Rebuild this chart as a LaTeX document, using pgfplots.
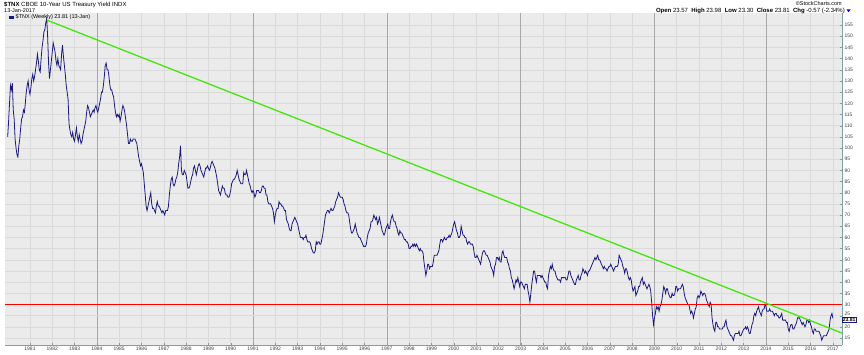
\documentclass[border=0pt]{standalone}
\usepackage{pgfplots}
\pgfplotsset{compat=1.18}
\usepackage{fontspec}
\setmainfont{Liberation Sans}
\definecolor{navy}{HTML}{1A1A80}
\definecolor{bg}{HTML}{EBEBEB}
\definecolor{gridc}{HTML}{DADADA}
\definecolor{gridd}{HTML}{A8A8A8}
\definecolor{axc}{HTML}{7FA0A0}
\definecolor{tgreen}{HTML}{44E60C}
\begin{document}
\begin{tikzpicture}[x=1pt,y=1pt]
\path[use as bounding box] (0,0) rectangle (864,355);
\begin{axis}[
  at={(5pt,10pt)}, anchor=south west, scale only axis,
  width=837pt, height=332pt,
  xmin=1979.88, xmax=2017.41, ymin=11.87, ymax=160.4,
  axis x line*=bottom, axis y line*=right,
  axis background/.style={fill=bg},
  axis line style={axc, line width=0.6pt},
  xtick={1981,...,2017}, ytick={15,20,30,35,...,155},
  /pgf/number format/1000 sep={},
  /pgf/number format/assume math mode=true,
  tick label style={font=\fontsize{5}{6}\selectfont, text=black!75},
  xticklabel style={yshift=1.5pt},
  yticklabel style={anchor=west, xshift=-1pt},
  major tick length=2pt,
  tick style={axc},
  grid=major, major grid style={gridc, line width=0.4pt},
  extra x ticks={1984,1991,1997,2003,2009,2014}, extra x tick labels={},
  extra x tick style={major grid style={gridd, line width=0.6pt}},
  extra y ticks={25},
  extra y tick style={yticklabel style={yshift=2.2pt}},
  clip=false,
]
\addplot[navy, line width=0.8pt] table[header=false, row sep=\\, x expr=1980+\coordindex/24, y index=0] {
105\\112\\120\\128\\126\\129\\117\\113\\104\\100\\97\\96\\101\\104\\109\\113\\114\\117\\116\\120\\125\\128\\130\\126\\
124\\127\\131\\133\\130\\132\\135\\138\\142\\139\\135\\134\\140\\145\\148\\152\\153\\156\\158\\150\\138\\131\\135\\139\\
143\\147\\145\\143\\139\\137\\140\\137\\136\\135\\142\\146\\141\\137\\133\\128\\125\\122\\111\\108\\106\\105\\107\\104\\
103\\106\\109\\105\\103\\106\\104\\102\\103\\106\\108\\110\\112\\116\\119\\118\\116\\114\\115\\116\\117\\116\\118\\119\\
117\\116\\118\\120\\122\\125\\125\\128\\132\\137\\138\\135\\135\\132\\128\\126\\126\\124\\123\\119\\116\\114\\115\\114\\
115\\112\\114\\117\\119\\118\\116\\113\\110\\106\\102\\102\\104\\103\\103\\104\\104\\104\\103\\102\\99\\96\\94\\92\\
93\\91\\89\\84\\79\\74\\72\\74\\76\\78\\80\\75\\73\\73\\72\\71\\74\\76\\74\\74\\73\\72\\71\\72\\
71\\70\\72\\72\\72\\74\\79\\83\\86\\87\\84\\83\\84\\86\\87\\89\\93\\96\\101\\90\\88\\88\\90\\89\\
88\\85\\82\\82\\83\\85\\87\\88\\91\\92\\90\\88\\90\\92\\93\\92\\90\\89\\88\\87\\89\\91\\91\\92\\
91\\90\\91\\93\\94\\93\\92\\91\\89\\87\\84\\81\\80\\79\\81\\83\\82\\82\\80\\79\\79\\78\\78\\79\\
81\\84\\85\\86\\86\\87\\88\\90\\88\\86\\85\\84\\84\\84\\89\\88\\88\\90\\88\\86\\84\\83\\81\\80\\
81\\80\\78\\79\\81\\81\\81\\80\\80\\81\\83\\83\\82\\82\\79\\79\\76\\75\\75\\75\\74\\73\\71\\67\\
70\\72\\73\\73\\76\\75\\75\\74\\74\\73\\72\\72\\68\\67\\66\\64\\63\\63\\66\\67\\68\\69\\68\\67\\
66\\64\\62\\60\\60\\60\\59\\60\\60\\61\\59\\58\\58\\58\\57\\55\\54\\53\\53\\54\\58\\57\\58\\58\\
57\\57\\59\\61\\64\\67\\70\\71\\72\\72\\71\\72\\73\\72\\72\\73\\74\\76\\77\\78\\80\\79\\78\\78\\
78\\77\\75\\74\\72\\71\\71\\70\\67\\64\\62\\62\\63\\64\\66\\64\\62\\61\\60\\60\\59\\58\\57\\56\\
56\\56\\57\\60\\62\\63\\64\\67\\67\\68\\70\\69\\68\\69\\66\\67\\69\\67\\65\\63\\62\\61\\62\\64\\
65\\66\\64\\64\\67\\69\\70\\68\\67\\67\\65\\64\\62\\61\\63\\62\\62\\61\\60\\59\\59\\58\\58\\57\\
55\\55\\56\\56\\57\\56\\57\\56\\57\\56\\55\\54\\55\\54\\54\\53\\49\\46\\43\\45\\48\\48\\46\\47\\
47\\47\\49\\52\\52\\52\\52\\53\\54\\57\\59\\59\\58\\59\\60\\59\\59\\60\\60\\61\\60\\61\\62\\64\\
66\\67\\65\\63\\62\\60\\60\\61\\65\\63\\61\\61\\60\\60\\58\\57\\58\\58\\57\\57\\57\\56\\53\\51\\
51\\52\\51\\50\\49\\48\\51\\53\\54\\54\\53\\52\\52\\51\\50\\49\\47\\46\\45\\43\\47\\48\\51\\51\\
50\\51\\49\\49\\53\\54\\52\\51\\51\\51\\49\\48\\46\\45\\42\\41\\39\\37\\39\\41\\40\\42\\40\\38\\
40\\40\\39\\38\\37\\39\\39\\39\\36\\34\\31\\35\\39\\42\\45\\45\\42\\40\\43\\43\\43\\43\\42\\43\\
42\\41\\40\\40\\38\\37\\43\\45\\47\\46\\48\\46\\45\\45\\43\\42\\41\\41\\41\\40\\42\\42\\42\\42\\
42\\41\\41\\43\\45\\45\\43\\42\\41\\40\\39\\39\\41\\42\\43\\41\\41\\43\\44\\46\\45\\44\\45\\44\\
43\\45\\45\\46\\47\\48\\49\\50\\51\\50\\51\\52\\50\\50\\49\\48\\47\\46\\47\\46\\46\\45\\46\\47\\
47\\48\\47\\46\\45\\46\\47\\47\\47\\48\\52\\51\\50\\49\\47\\46\\44\\46\\46\\44\\42\\41\\42\\41\\
38\\36\\37\\38\\34\\35\\36\\38\\38\\40\\41\\42\\39\\40\\39\\38\\37\\38\\39\\38\\36\\31\\25\\21\\
24\\26\\29\\28\\29\\27\\29\\30\\32\\35\\38\\37\\35\\37\\37\\35\\34\\33\\33\\35\\34\\34\\35\\38\\
38\\36\\37\\37\\37\\38\\39\\38\\35\\33\\32\\31\\30\\30\\28\\26\\27\\26\\24\\26\\28\\29\\33\\34\\
33\\34\\36\\35\\34\\35\\35\\34\\32\\31\\30\\29\\31\\30\\24\\21\\19\\18\\22\\22\\20\\20\\19\\19\\
19\\19\\20\\20\\22\\23\\20\\19\\18\\17\\16\\16\\15\\14\\16\\17\\17\\17\\17\\18\\16\\16\\17\\18\\
19\\19\\20\\19\\20\\19\\17\\17\\19\\21\\22\\25\\26\\25\\27\\28\\29\\27\\26\\25\\27\\28\\28\\30\\
29\\27\\27\\27\\28\\27\\27\\27\\26\\25\\26\\26\\25\\25\\24\\24\\25\\26\\23\\23\\23\\23\\22\\22\\
19\\18\\20\\21\\21\\19\\19\\20\\21\\22\\24\\24\\24\\23\\22\\21\\22\\21\\20\\21\\23\\23\\22\\23\\
21\\20\\18\\17\\19\\19\\18\\18\\18\\18\\17\\16\\14\\15\\16\\16\\16\\16\\17\\18\\19\\23\\25\\26\\
23.81\\
};
\addplot[red, line width=1.3pt] coordinates {(1979.88,30) (2017.41,30)};
\addplot[tgreen, line width=1.3pt] coordinates {(1981.76,157.2) (2017.41,17.2)};
\node[draw=navy, fill=white, inner sep=0.6pt, anchor=west, yshift=-1.2pt, font=\fontsize{5}{5.5}\selectfont\bfseries] at (axis cs:2017.41,23.81) {23.81};
\end{axis}
\node[anchor=west, font=\fontsize{6}{7}\selectfont, inner sep=0pt] at (4,350.5) {\textbf{\$TNX} CBOE 10-Year US Treasury Yield INDX};
\node[anchor=west, font=\fontsize{5.5}{6}\selectfont, inner sep=0pt] at (4,344.3) {13-Jan-2017};
\fill[navy] (9,336.3) rectangle (14,339.3);
\node[anchor=west, font=\fontsize{5.5}{6}\selectfont, inner sep=0pt] at (15.5,337.8) {\$TNX (Weekly) 23.81 (13-Jan)};
\node[anchor=east, font=\fontsize{5.5}{6}\selectfont, inner sep=0pt] at (842,351) {©StockCharts.com};
\node[anchor=east, font=\fontsize{6}{7}\selectfont, inner sep=0pt] at (845,344.3) {\textbf{Open} 23.57 \ \textbf{High} 23.98 \ \textbf{Low} 23.30 \ \textbf{Close} 23.81 \ \textbf{Chg} -0.57 (-2.34\%)};
\fill[blue] (846.5,345.5) -- (850.5,345.5) -- (848.5,342.8) -- cycle;
\end{tikzpicture}
\end{document}
